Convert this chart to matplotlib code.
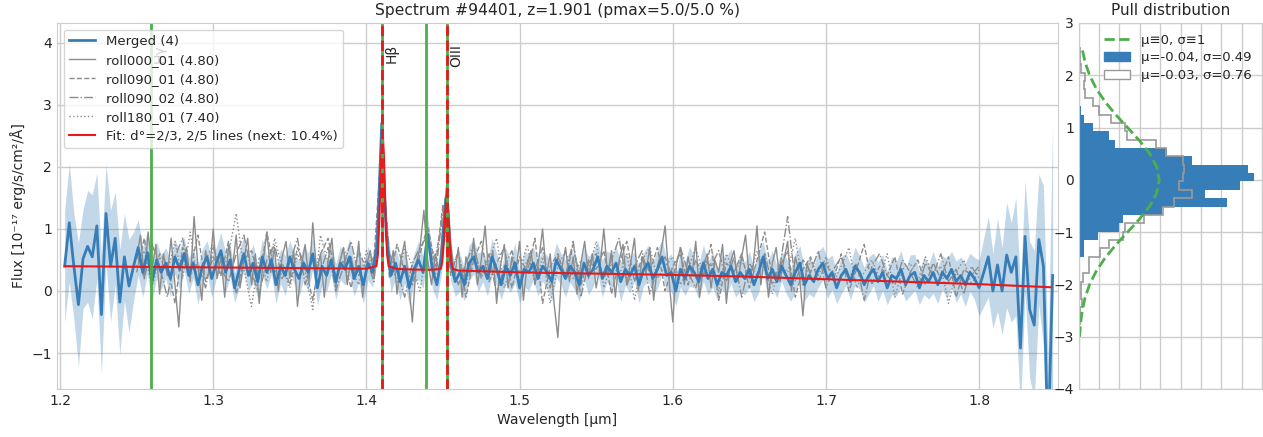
import numpy as np
import matplotlib
matplotlib.use('Agg')
from matplotlib import pyplot as plt
from matplotlib.lines import Line2D
from matplotlib.patches import Patch

# merged spectrum, sampled every 0.003 um from 1.203 um
merged_flux = [
    0.40, 1.10, 0.40, -0.22, 0.52, 0.72, 0.55, 1.05, -0.38, 1.25,
    0.40, 0.85, -0.18, 0.55, 0.08, 0.40, 0.70, 0.30, 0.62, 0.15,
    0.50, 0.30, 0.45, 0.20, 0.55, 0.35, 0.60, 0.25, 0.45, 0.10,
    0.40, 0.55, 0.20, 0.45, 0.65, 0.30, 0.50, 0.05, 0.35, 0.60,
    0.25, 0.45, 0.15, 0.55, 0.30, 0.50, 0.10, 0.40, 0.25, 0.55,
    0.35, 0.20, 0.45, 0.30, 0.60, 0.05, 0.40, 0.25, 0.50, 0.15,
    0.45, 0.35, 0.55, 0.20, 0.40, 0.10, 0.45, 0.30, 0.75, 2.70,
    0.90, 0.25, 0.45, 0.15, 0.40, 0.05, 0.35, 0.50, 0.30, 0.92,
    0.35, 0.10, 0.55, 1.50, 0.45, 0.15, 0.30, 0.10, 0.45, 0.55,
    0.30, 0.40, 0.20, 0.55, 0.35, 0.10, 0.40, 0.25, 0.45, 0.05,
    0.35, 0.30, 0.45, 0.20, 0.40, 0.30, 0.15, 0.50, 0.35, 0.20,
    0.40, 0.30, 0.10, 0.45, 0.25, 0.35, 0.55, 0.20, 0.40, 0.30,
    0.45, 0.15, 0.35, 0.25, 0.40, 0.10, 0.35, 0.45, 0.20, 0.35,
    0.55, 0.25, 0.30, 0.00, 0.35, 0.20, 0.40, 0.30, 0.15, 0.45,
    0.20, 0.35, 0.10, 0.30, 0.25, 0.40, 0.15, 0.30, 0.20, 0.35,
    0.10, 0.30, 0.55, 0.20, 0.35, 0.15, 0.40, 0.25, 0.10, 0.30,
    0.45, 0.10, 0.25, 0.15, 0.35, 0.45, 0.20, 0.30, 0.05, 0.25,
    0.35, 0.15, 0.40, 0.30, 0.10, 0.25, 0.35, 0.15, 0.30, 0.05,
    0.25, 0.20, 0.35, 0.10, 0.25, 0.30, 0.05, 0.25, 0.15, 0.30,
    0.10, 0.30, 0.20, 0.35, 0.15, 0.25, 0.10, 0.30, 0.20, 0.05,
    0.30, 0.55, 0.00, 0.42, 0.00, 0.58, 0.30, 0.55, -0.92, 0.88,
    -0.30, -0.55, 0.83, 0.40, -2.50, 0.25]
merged_err = [
    0.90, 0.95, 0.85, 1.00, 0.80, 0.90, 1.00, 0.85, 0.95, 0.80,
    0.90, 0.75, 0.85, 0.70, 0.75, 0.55, 0.45, 0.40, 0.35, 0.32, 0.30,
    0.28, 0.25, 0.30, 0.27, 0.32, 0.26, 0.29, 0.24, 0.31, 0.28, 0.26, 0.30, 0.25, 0.29, 0.33, 0.27, 0.24, 0.30, 0.28, 0.26,
    0.31, 0.25, 0.29, 0.27, 0.23, 0.30, 0.28, 0.32, 0.26, 0.24, 0.29, 0.27, 0.31, 0.25, 0.28, 0.30, 0.26, 0.24, 0.29, 0.27,
    0.25, 0.30, 0.28, 0.26, 0.31, 0.27, 0.24, 0.29, 0.32, 0.26, 0.28, 0.25, 0.30, 0.27, 0.29, 0.24, 0.31, 0.26, 0.28, 0.30,
    0.25, 0.27, 0.32, 0.28, 0.24, 0.30, 0.26, 0.29, 0.27, 0.31, 0.25, 0.28, 0.30, 0.26, 0.24, 0.29, 0.27, 0.32, 0.25, 0.28,
    0.30, 0.26, 0.29, 0.24, 0.27, 0.31, 0.28, 0.25, 0.30, 0.26, 0.29, 0.27, 0.24, 0.31, 0.28, 0.26, 0.30, 0.25, 0.29, 0.27,
    0.32, 0.26, 0.28, 0.24, 0.30, 0.27, 0.29, 0.25, 0.31, 0.28, 0.26, 0.30, 0.24, 0.29, 0.27, 0.32, 0.25, 0.28, 0.30, 0.26,
    0.29, 0.24, 0.27, 0.31, 0.28, 0.25, 0.30, 0.26, 0.29, 0.27, 0.33, 0.25, 0.28, 0.30, 0.26, 0.24, 0.29, 0.27, 0.31, 0.28,
    0.26, 0.30, 0.25, 0.29, 0.27, 0.32, 0.28, 0.25, 0.30, 0.26, 0.29, 0.31, 0.27, 0.28, 0.30, 0.26, 0.32, 0.29, 0.27, 0.31,
    0.28, 0.30, 0.26, 0.33, 0.29, 0.27, 0.31, 0.28, 0.34, 0.30, 0.27, 0.32, 0.29, 0.33, 0.30, 0.35, 0.31, 0.34,
    0.45, 0.55, 0.65, 0.60, 0.75, 0.70, 0.85, 0.80, 0.95, 1.00, 0.90, 1.10, 1.20, 1.05, 1.30, 1.40, 2.50]

# single exposures
roll000_01 = [  # every 0.0025 um from 1.250
    0.55, 0.90, 0.20, 0.95, 0.35, 0.75, -0.05, 0.60, 0.25, 0.85,
    0.10, -0.58, 0.45, 0.70, 0.15, 1.20, 0.40, -0.15, 0.65, 0.30,
    1.00, 0.20, 0.55, -0.10, 0.75, 0.35, 0.90, 0.05, 0.50, 0.85,
    0.10, 0.60, -0.20, 0.45, 0.95, 0.30, 0.70, 0.00, 0.55, 0.80,
    0.20, 0.65, -0.25, 0.40, 0.75, 0.15, 1.10, 0.30, 0.60, -0.10,
    0.50, 0.85, 0.05, 0.45, 0.70, 0.10, 0.55, 0.25, 0.80, -0.10,
    0.40, 0.65, 0.20, 0.90, 2.80, 1.20, 0.30, 0.65, -0.05, 0.50,
    0.80, 0.15, -0.50, 0.45, 0.70, 1.30, 0.50, 0.10, 0.60, 0.30,
    1.10, 1.75, 0.80, 0.20, 0.70, -0.10, 0.55, 0.25, 0.85, 0.10,
    0.50, 1.05, 0.20, 0.65, -0.20, 0.40, 0.75, 0.05, 0.55, 0.30,
    0.80, -0.15, 0.45, 0.65, 0.10, 0.50, 1.00, 0.25, 0.60, -0.20,
    -0.75, 0.35, 0.70, 0.15, 0.55, -0.05, 0.45, 0.80, 0.20, 0.60,
    0.05, 0.40, 1.00, 0.25, 0.65, -0.10, 0.50, 0.75, 0.10, 0.45,
    0.85, 0.00, 0.55, 0.30, 0.70, -0.15, 0.40, 0.65, 1.05, 0.20,
    -0.50, 0.45, 0.70, 0.10, 0.55, 0.25, 0.80, -0.10, 0.40, 0.60,
    0.05, 0.50, 0.30, 0.75, -0.20, 0.45, 0.65, 0.15, 0.55, 0.90,
    0.20, 0.40, 1.05, 0.10, 0.60, -0.10, 0.45, 0.70, 0.15, 0.50,
    0.80, 0.00, 0.55, 0.30, -0.40, 0.45, 0.25]
roll090_01 = [  # every 0.005 um from 1.250
    0.30, 0.85, 0.10, 0.60, 0.45, -0.20, 0.70, 0.35, 0.90, 0.15,
    0.55, 0.25, 0.80, -0.05, 0.50, 0.65, 0.20, 0.95, 0.30, 0.45,
    0.10, 0.70, 0.40, -0.15, 0.60, 0.85, 0.25, 0.50, 0.05, 0.65,
    0.35, 0.55, 2.40, 0.20, 0.75, 0.30, 0.10, 0.60, 1.05, 0.40,
    1.40, 0.25, 0.65, -0.10, 0.50, 0.80, 0.15, 0.45, 0.70, 0.05,
    0.55, 0.30, 0.85, -0.20, 0.40, 0.60, 0.20, 0.75, 0.10, 0.50,
    0.35, 0.65, -0.05, 0.45, 0.80, 0.15, 0.55, 0.30, 0.70, 0.00,
    0.40, 0.60, 0.10, 0.50, 0.25, 0.75, -0.15, 0.45, 0.30, 0.60,
    0.05, 0.50, 0.95, 0.20, 0.40, 0.65, -0.10, 0.35, 0.55, 0.15,
    0.45, 0.20, 0.60, 0.00, 0.35, 0.75, 0.10, 0.40, 0.25, 0.55,
    -0.05, 0.30, 0.50, 0.10, 0.45, 0.20, 0.55, -0.10, 0.35, 0.25, 0.40]
roll090_02 = [
    0.60, 0.20, 0.75, 0.40, -0.10, 0.55, 0.85, 0.25, 0.45, 0.05,
    0.70, 0.35, 0.15, 0.60, 0.90, 0.30, -0.05, 0.50, 0.75, 0.20,
    0.45, 0.85, 0.10, 0.55, 0.30, 0.70, 0.00, 0.40, 0.80, 0.25,
    0.50, 0.15, 2.20, 0.60, 0.35, -0.10, 0.45, 0.70, 0.90, 0.25,
    1.30, 0.55, 0.10, 0.45, 0.75, 0.20, 0.60, -0.05, 0.40, 0.65,
    0.15, 0.50, 0.35, 0.70, 0.05, 0.55, 0.25, 0.80, -0.10, 0.45,
    0.60, 0.20, 0.50, 0.85, 0.10, 0.40, 0.65, -0.05, 0.35, 0.55,
    0.20, 0.70, 0.30, 0.05, 0.50, 0.40, 0.65, 0.15, 0.55, -0.10,
    0.45, 0.25, 0.60, 0.10, 0.40, 1.20, 0.15, 0.50, 0.30, 0.65,
    0.05, 0.35, 0.55, 0.20, 0.45, -0.15, 0.40, 0.60, 0.25, 0.10,
    0.50, 0.30, 0.05, 0.45, 0.25, 0.60, 0.15, 0.35, -0.05, 0.40, 0.20]
roll180_01 = [
    0.40, 0.65, 0.05, 0.55, 0.30, 0.80, 0.20, 0.95, 0.10, 0.50,
    0.75, 0.25, 0.60, 1.25, 0.35, -0.25, 0.55, 0.15, 0.85, 0.40,
    0.05, 0.60, 0.30, -0.30, 0.90, 0.45, 0.20, 0.70, 0.35, 0.10,
    0.65, 0.30, 2.10, 0.50, 0.15, 0.70, 0.40, 0.00, 0.80, 0.55,
    1.20, 0.35, 0.60, 0.10, 0.70, 0.25, 0.50, 0.85, 0.05, 0.45,
    0.30, 0.75, 0.10, 0.55, -0.20, 0.40, 0.65, 0.20, 0.50, 0.35,
    0.80, 0.05, 0.45, 0.25, 0.60, -0.15, 0.50, 0.70, 0.20, 0.40,
    0.55, 0.10, 0.35, 0.70, 0.25, 0.45, 0.00, 0.60, 0.30, 0.50,
    0.20, 0.65, 0.35, -0.05, 0.45, 0.30, 0.85, 0.10, 0.50, 0.25,
    0.55, 0.15, 0.40, 0.70, 0.05, 0.30, 0.50, 0.20, 0.60, -0.10,
    0.35, 0.45, 0.15, 0.55, 0.25, 0.40, -0.20, 0.30, 0.50, 0.10, 0.35]

# fit: continuum + Hbeta + [OIII]
fit_wave = [1.203, 1.25, 1.30, 1.35, 1.40, 1.4065, 1.4075, 1.4085, 1.4095,
            1.4105, 1.4115, 1.4125, 1.4135, 1.4145, 1.42, 1.44, 1.4485,
            1.4495, 1.4505, 1.4515, 1.4525, 1.4535, 1.4545, 1.4555, 1.4565,
            1.46, 1.50, 1.55, 1.60, 1.65, 1.70, 1.75, 1.80, 1.847]
fit_flux = [0.40, 0.39, 0.38, 0.37, 0.36, 0.40, 0.59, 1.18, 2.12,
            2.63, 2.12, 1.18, 0.59, 0.40, 0.355, 0.34, 0.355,
            0.46, 0.77, 1.27, 1.55, 1.27, 0.77, 0.46, 0.355,
            0.33, 0.30, 0.28, 0.26, 0.23, 0.19, 0.15, 0.11, 0.06]

line_pos = [1.2594, 1.4389, 1.4105, 1.4527]
line_fit = [1.4105, 1.4527]
line_names = ['Hγ', 'Hβ', 'OIII']
line_name_pos = [1.2594, 1.4105, 1.4527]

# pull histograms (bins of 0.16 from -3.07 to 2.53)
pull_edges = np.round(-3.07 + 0.16 * np.arange(36), 2)
pull_hist_fit = [
    0, 0, 0, 0, 0, 0, 0, 0.7, 0, 0,
    2.8, 2.8, 9.3, 20.0, 21.6, 40.8, 72.7, 62.1, 79.3, 86.1,
    83.2, 55.4, 43.1, 18.0, 15.0, 7.2, 2.7, 1.2, 0, 0,
    0, 0, 0, 0, 0]
pull_hist_all = [
    0, 0, 0.7, 0.7, 1.6, 1.0, 1.0, 2.3, 4.9, 5.2,
    10.3, 14.7, 21.6, 22.9, 32.2, 41.4, 46.6, 55.6, 49.0, 51.0,
    51.8, 51.3, 43.0, 38.1, 23.5, 22.5, 15.7, 9.8, 7.1, 2.9,
    2.5, 2.9, 1.2, 0.7, 0.7]
gauss_pull = [-3.0, -2.75, -2.5, -2.25, -2.0, -1.75, -1.5, -1.25, -1.0, -0.75,
              -0.5, -0.25, 0.0, 0.25, 0.5, 0.75, 1.0, 1.25, 1.5, 1.75,
              2.0, 2.25, 2.5]
gauss_height = [0.44, 0.90, 1.73, 3.14, 5.35, 8.54, 12.82, 18.08, 23.96, 29.81,
                34.86, 38.28, 39.5, 38.28, 34.86, 29.81, 23.96, 18.08, 12.82, 8.54,
                5.35, 3.14, 1.73]

blue = '#377eb8'
red = '#e41a1c'
green = '#4daf4a'
gray = '0.55'
dark = '0.15'

plt.rcParams.update({
    'font.family': ['DejaVu Sans'],
    'font.size': 10,
    'text.color': dark,
    'axes.labelcolor': dark,
    'xtick.color': dark,
    'ytick.color': dark,
    'axes.edgecolor': '0.8',
    'grid.color': '0.8',
    'xtick.major.size': 0,
    'ytick.major.size': 0,
})

wave = np.round(1.203 + 0.003 * np.arange(len(merged_flux)), 4)
flux = np.array(merged_flux)
err = np.array(merged_err)
w000 = np.round(1.25 + 0.0025 * np.arange(len(roll000_01)), 4)
w090 = np.round(1.25 + 0.005 * np.arange(len(roll090_01)), 4)

fig = plt.figure(figsize=(12.63, 4.37), dpi=100)
ax = fig.add_axes([57 / 1263, 1 - 389 / 437, 1001 / 1263, 366 / 437])
ax.set_axisbelow(True)
ax.grid(True, lw=1)

ax.fill_between(wave, flux - err, flux + err, color=blue, alpha=0.3, lw=0)
ax.plot(w000, roll000_01, color=gray, lw=1.0, ls='-', label='roll000_01 (4.80)')
ax.plot(w090, roll090_01, color=gray, lw=1.0, ls='--', label='roll090_01 (4.80)')
ax.plot(w090, roll090_02, color=gray, lw=1.0, ls='-.', label='roll090_02 (4.80)')
ax.plot(w090, roll180_01, color=gray, lw=1.0, ls=':', label='roll180_01 (7.40)')
ax.plot(wave, flux, color=blue, lw=2, label='Merged (4)')
ax.plot(fit_wave, fit_flux, color=red, lw=1.5, label='Fit: d°=2/3, 2/5 lines (next: 10.4%)')

for w in line_pos:
    ax.axvline(w, color=green, lw=2)
for w in line_fit:
    ax.axvline(w, color=red, lw=2, ls='--')
for name, w in zip(line_names, line_name_pos):
    ax.text(w + 0.0012, 3.98, name, rotation=90, ha='left', va='top', fontsize=10)

ax.set_xlim(1.198, 1.8515)
ax.set_ylim(-1.58, 4.32)
ax.set_xticks([1.2, 1.3, 1.4, 1.5, 1.6, 1.7, 1.8])
ax.set_yticks([-1, 0, 1, 2, 3, 4])
ax.set_xlabel('Wavelength [µm]')
ax.set_ylabel('Flux [10⁻¹⁷ erg/s/cm²/Å]')
ax.set_title('Spectrum #94401, z=1.901 (pmax=5.0/5.0 %)', fontsize=11.2)

h, l = ax.get_legend_handles_labels()
order = [4, 0, 1, 2, 3, 5]
leg = ax.legend([h[i] for i in order], [l[i] for i in order], loc='upper left',
                fontsize=9.5, frameon=True, framealpha=0.8, labelspacing=0.45)
leg.get_frame().set_edgecolor('0.8')
leg.set_zorder(5)

# pull distribution
ax2 = fig.add_axes([1078.7 / 1263, 1 - 389 / 437, 183.5 / 1263, 366 / 437])
ax2.set_axisbelow(True)
ax2.grid(True, lw=1)
ax2.stairs(pull_hist_fit, pull_edges, orientation='horizontal', fill=True, color=blue)
ax2.stairs(pull_hist_all, pull_edges, orientation='horizontal', color='0.6', lw=1.2)
ax2.plot(gauss_height, gauss_pull, ls='--', color=green, lw=2)
ax2.set_xlim(0, 90)
ax2.set_ylim(-4, 3)
ax2.set_xticks(np.arange(0, 91, 10))
ax2.set_xticklabels([])
ax2.set_yticks(range(-4, 4))
ax2.set_title('Pull distribution', fontsize=11)
handles = [Line2D([], [], ls='--', color=green, lw=2),
           Patch(facecolor=blue, edgecolor=blue),
           Patch(facecolor='white', edgecolor='0.6')]
ax2.legend(handles, ['μ≡0, σ≡1', 'μ=-0.04, σ=0.49', 'μ=-0.03, σ=0.76'],
           loc='upper right', fontsize=9.5, frameon=False, labelspacing=0.35,
           borderaxespad=0.4)

fig.savefig('out.png', dpi=100)
